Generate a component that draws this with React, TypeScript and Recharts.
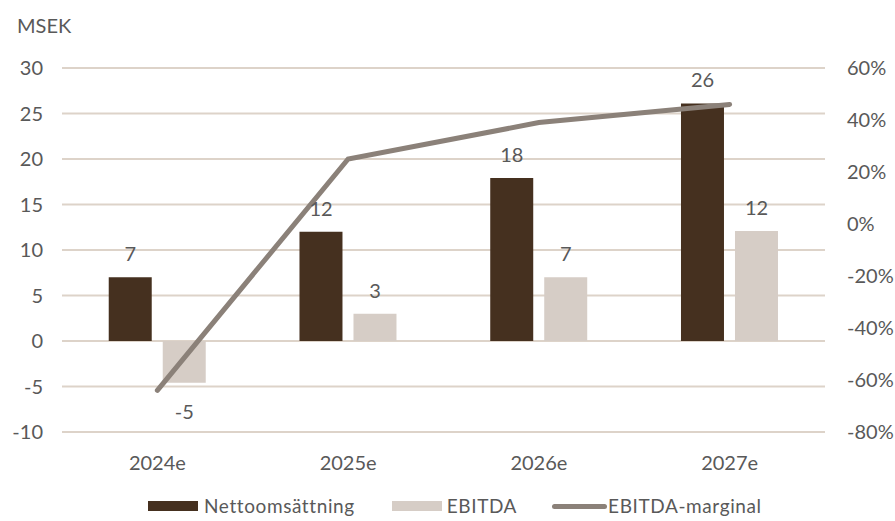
import {
  ComposedChart,
  Bar,
  Line,
  XAxis,
  YAxis,
  CartesianGrid,
  Legend,
  LabelList,
} from 'recharts';

const years = ['2024e', '2025e', '2026e', '2027e'];
const nettoomsattning = [7.0, 12.0, 17.9, 26.1];
const ebitda = [-4.6, 3.0, 7.0, 12.1];
const ebitdaMarginal = [-64, 25, 39, 46];

const leftTicks = [-10, -5, 0, 5, 10, 15, 20, 25, 30];
const rightTicks = [-80, -60, -40, -20, 0, 20, 40, 60];

const DARK = '#45301f';
const LIGHT = '#d6cdc6';
const LINE = '#8b8179';
const GRID = '#ddd3c9';
const TEXT = '#595959';
const FONT = 'Lato, "Open Sans", sans-serif';

const data = years.map((year, i) => ({
  year,
  netto: nettoomsattning[i],
  ebitda: ebitda[i],
  marginal: ebitdaMarginal[i],
}));

// value label above positive bars, below negative ones
const renderValue = (props: any) => {
  const { x, y, width, height, value } = props;
  const top = Math.min(y, y + height);
  const bottom = Math.max(y, y + height);
  const cy = value < 0 ? bottom + 28 : top - 24;
  return (
    <text
      x={x + width / 2}
      y={cy}
      textAnchor="middle"
      dominantBaseline="central"
      fill={TEXT}
      fontSize={20}
      fontFamily={FONT}
    >
      {Math.round(value)}
    </text>
  );
};

const LegendContent = () => (
  <div
    style={{
      display: 'flex',
      alignItems: 'center',
      fontFamily: FONT,
      fontSize: 19,
      lineHeight: '22px',
      letterSpacing: 0.6,
      color: TEXT,
      marginTop: 13,
      paddingLeft: 148,
    }}
  >
    <span style={{ display: 'flex', alignItems: 'center', marginRight: 37 }}>
      <span style={{ width: 50, height: 10, background: DARK, marginRight: 6 }} />
      Nettoomsättning
    </span>
    <span style={{ display: 'flex', alignItems: 'center', marginRight: 35 }}>
      <span style={{ width: 50, height: 10, background: LIGHT, marginRight: 5 }} />
      EBITDA
    </span>
    <span style={{ display: 'flex', alignItems: 'center' }}>
      <span
        style={{ width: 55, height: 5, borderRadius: 3, background: LINE, marginRight: 1 }}
      />
      EBITDA-marginal
    </span>
  </div>
);

export default function App() {
  return (
    <div
      style={{
        position: 'fixed',
        top: 0,
        left: 0,
        width: 895,
        height: 521,
        background: '#fff',
        overflow: 'hidden',
      }}
    >
      <div
        style={{
          position: 'absolute',
          left: 17,
          top: 13,
          fontFamily: FONT,
          fontSize: 20,
          color: TEXT,
        }}
      >
        MSEK
      </div>
      <ComposedChart
        width={895}
        height={521}
        data={data}
        margin={{ top: 68, right: 0, bottom: 0, left: 0 }}
        barGap={11}
        barCategoryGap="24.5%"
      >
        <CartesianGrid
          vertical={false}
          stroke={GRID}
          strokeWidth={2}
          yAxisId="left"
        />
        <XAxis
          dataKey="year"
          axisLine={false}
          tickLine={false}
          tickSize={0}
          tickMargin={24}
          height={50}
          tick={{ fill: TEXT, fontSize: 20, fontFamily: FONT }}
        />
        <YAxis
          yAxisId="left"
          domain={[-10, 30]}
          ticks={leftTicks}
          axisLine={false}
          tickLine={false}
          tickSize={0}
          tickMargin={19}
          width={62}
          tick={{ fill: TEXT, fontSize: 20, fontFamily: FONT }}
        />
        <YAxis
          yAxisId="right"
          orientation="right"
          domain={[-80, 60]}
          ticks={rightTicks}
          axisLine={false}
          tickLine={false}
          tickSize={0}
          tickMargin={22}
          width={70}
          tickFormatter={(v: number) => `${v}%`}
          tick={{ fill: TEXT, fontSize: 20, fontFamily: FONT }}
        />
        <Bar
          yAxisId="left"
          dataKey="netto"
          name="Nettoomsättning"
          fill={DARK}
          isAnimationActive={false}
        >
          <LabelList dataKey="netto" content={renderValue} />
        </Bar>
        <Bar
          yAxisId="left"
          dataKey="ebitda"
          name="EBITDA"
          fill={LIGHT}
          isAnimationActive={false}
        >
          <LabelList dataKey="ebitda" content={renderValue} />
        </Bar>
        <Line
          yAxisId="right"
          dataKey="marginal"
          name="EBITDA-marginal"
          stroke={LINE}
          strokeWidth={5}
          strokeLinecap="round"
          dot={false}
          activeDot={false}
          isAnimationActive={false}
        />
        <Legend
          verticalAlign="bottom"
          height={39}
          content={<LegendContent />}
        />
      </ComposedChart>
    </div>
  );
}
